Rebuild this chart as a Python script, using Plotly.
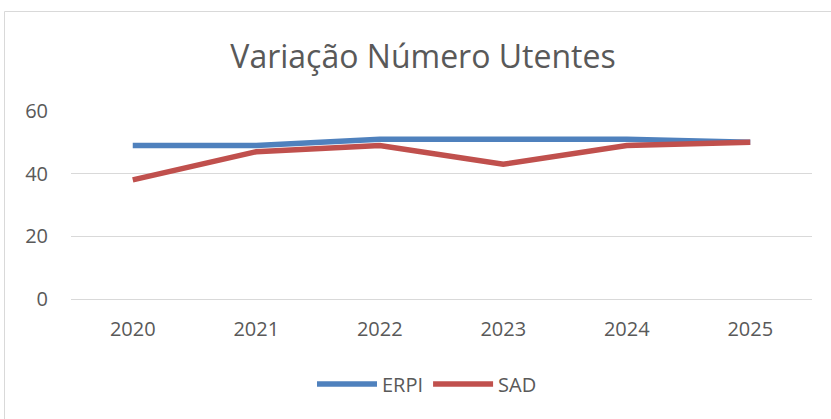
import plotly.graph_objects as go

years = ["2020", "2021", "2022", "2023", "2024", "2025"]
erpi = [49, 49, 51, 51, 51, 50]
sad = [38, 47, 49, 43, 49, 50]
y_ticks = [0, 20, 40, 60]

W, H = 831, 419
L, R, T, B = 71, 19, 111, 120
pw, ph = W - L - R, H - T - B

fig = go.Figure()
fig.add_trace(go.Scatter(x=years, y=erpi, mode="lines", name="ERPI",
                         line=dict(color="#4F81BD", width=5.5)))
fig.add_trace(go.Scatter(x=years, y=sad, mode="lines", name="SAD",
                         line=dict(color="#C0504D", width=5.5)))

font = "Open Sans, sans-serif"
fig.update_layout(
    width=W, height=H,
    margin=dict(l=L, r=R, t=T, b=B),
    paper_bgcolor="white", plot_bgcolor="white",
    title=dict(text="Variação Número Utentes", x=423 / W, xanchor="center",
               y=1 - 57 / H, yanchor="middle",
               font=dict(family=font, size=32, color="#595959")),
    xaxis=dict(type="category", range=[-0.5, 5.5], showgrid=False,
               showline=False, ticks="", ticklabelstandoff=16,
               tickfont=dict(family=font, size=20, color="#595959")),
    yaxis=dict(range=[0, 60], tickvals=y_ticks, showgrid=True,
               gridcolor="#D9D9D9", gridwidth=1, zeroline=True,
               zerolinecolor="#D9D9D9", zerolinewidth=1, showline=False,
               ticks="", ticklabelstandoff=22,
               tickfont=dict(family=font, size=20, color="#595959")),
    legend=dict(orientation="h", x=(427 - L) / pw, xanchor="center",
                y=-(384 - (T + ph)) / ph, yanchor="middle",
                font=dict(family=font, size=20, color="#595959"),
                itemwidth=60),
    showlegend=True,
)
fig.add_shape(type="rect", xref="paper", yref="paper",
              x0=(4.5 - L) / pw, x1=(W + 5 - L) / pw,
              y0=-(H + 5 - (T + ph)) / ph, y1=1 + (T - 11.5) / ph,
              line=dict(color="#D9D9D9", width=1), layer="below")
fig.write_html("out.html", config={"displayModeBar": False},
               post_script="document.body.style.margin='0';")
